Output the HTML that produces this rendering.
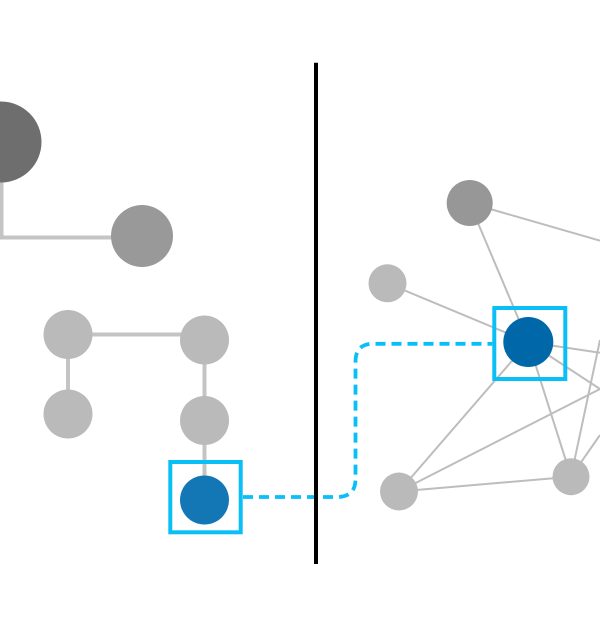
<!DOCTYPE html>
<html><head><meta charset="utf-8"><style>
html,body{margin:0;padding:0;background:#fff;}
svg{display:block;}
</style></head><body>
<svg width="600" height="627" viewBox="0 0 600 627" xmlns="http://www.w3.org/2000/svg">
<rect width="600" height="627" fill="#fff"/>
<!-- left thick edges -->
<g stroke="#c4c4c4" stroke-width="4" fill="none">
<path d="M1.5 142 V237.5 H142"/>
<path d="M68 334.5 H204.5"/>
<path d="M68 334.5 V414"/>
<path d="M204.5 340 V500"/>
</g>
<!-- left nodes -->
<circle cx="1" cy="142" r="40.5" fill="#6e6e6e"/>
<circle cx="142" cy="236" r="31" fill="#999999"/>
<circle cx="68" cy="334.5" r="24.5" fill="#bababa"/>
<circle cx="204.5" cy="340" r="24.5" fill="#bababa"/>
<circle cx="68" cy="414" r="24.5" fill="#bababa"/>
<circle cx="204.5" cy="420.5" r="24.5" fill="#bababa"/>
<circle cx="204.5" cy="500" r="24.5" fill="#1277b4"/>
<rect x="170.3" y="462" width="70.4" height="70.3" fill="none" stroke="#0abff5" stroke-width="4"/>
<!-- right thin edges -->
<g stroke="#bdbdbd" stroke-width="2" fill="none">
<line x1="469.5" y1="203" x2="600" y2="240.7"/>
<line x1="469.5" y1="203" x2="528.3" y2="342"/>
<line x1="387.5" y1="283.3" x2="528.3" y2="342"/>
<line x1="528.3" y1="342" x2="600" y2="352.7"/>
<line x1="528.3" y1="342" x2="600" y2="389"/>
<line x1="528.3" y1="342" x2="399" y2="491.5"/>
<line x1="528.3" y1="342" x2="571" y2="476.7"/>
<line x1="399" y1="491.5" x2="571" y2="476.7"/>
<line x1="399" y1="491.5" x2="600" y2="389"/>
<line x1="571" y1="476.7" x2="600" y2="340"/>
<line x1="571" y1="476.7" x2="600" y2="435"/>
</g>
<!-- right nodes -->
<circle cx="469.7" cy="203" r="23" fill="#979797"/>
<circle cx="387.5" cy="283.3" r="19" fill="#bababa"/>
<circle cx="399" cy="491.5" r="19" fill="#bababa"/>
<circle cx="571" cy="476.7" r="18.5" fill="#bababa"/>
<circle cx="528.3" cy="342" r="25" fill="#0068a8"/>
<rect x="494.3" y="308" width="71" height="71" fill="none" stroke="#0abff5" stroke-width="4"/>
<!-- dashed connector -->
<path d="M243 497 H337 Q355.5 497 355.5 479 V362 Q355.5 343.8 373 343.8 H492.3" fill="none" stroke="#0abff5" stroke-width="3.8" stroke-dasharray="10 6"/>
<!-- divider -->
<line x1="316" y1="62.7" x2="316" y2="564" stroke="#000" stroke-width="4"/>
</svg>
</body></html>
